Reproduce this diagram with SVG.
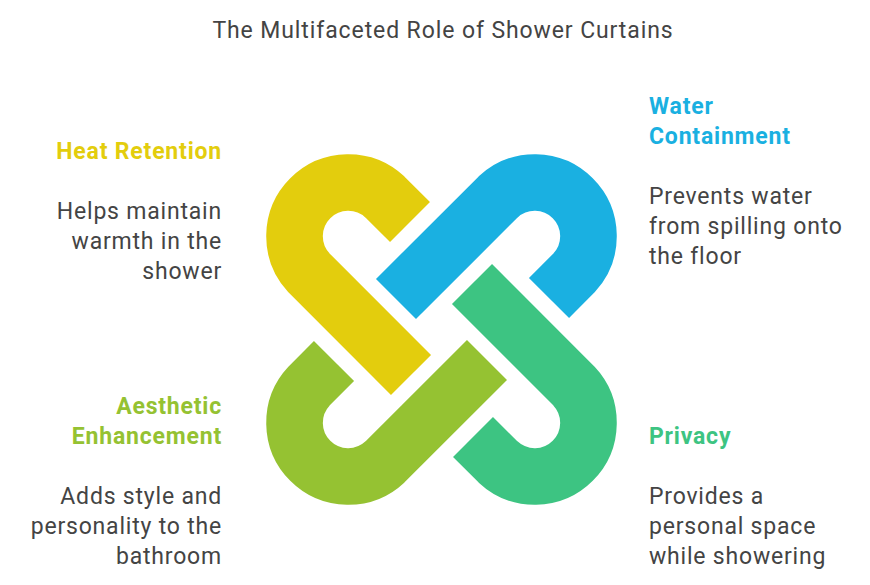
<svg xmlns="http://www.w3.org/2000/svg" width="870" height="585" viewBox="0 0 870 585">
  <style>
    .link { fill: none; stroke-width: 56.6; stroke-linecap: butt; stroke-linejoin: miter; }
    .title { font-family: Roboto, "Liberation Sans", sans-serif; font-size: 23px; letter-spacing: 0.9px; fill: #444444; }
    .head { font-family: Roboto, "Liberation Sans", sans-serif; font-size: 23px; font-weight: bold; letter-spacing: 0.8px; }
    .body { font-family: Roboto, "Liberation Sans", sans-serif; font-size: 23px; letter-spacing: 0.8px; fill: #444444; }
    .r { text-anchor: end; }
  </style>
  <defs>
    <path id="hook" d="M -31.5,-107.5 L -56.6,-132.5 A 53.7 53.7 0 0 0 -132.5,-56.6 L -30.5,45.5"/>
  </defs>
  <rect width="870" height="585" fill="#ffffff"/>
  <text class="title" x="443" y="38" text-anchor="middle">The Multifaceted Role of Shower Curtains</text>

  <g id="heat-retention">
    <use href="#hook" class="link" stroke="#E3CD0D" transform="translate(441.5 329.5)"/>
    <text class="head r" x="222" y="159" fill="#E3CD0D">Heat Retention</text>
    <text class="body r" x="222" y="219">Helps maintain</text>
    <text class="body r" x="222" y="249">warmth in the</text>
    <text class="body r" x="222" y="279">shower</text>
  </g>

  <g id="water-containment">
    <use href="#hook" class="link" stroke="#1AB0E1" transform="translate(441.5 329.5) rotate(90)"/>
    <text class="head" x="649" y="114" fill="#1AB0E1">Water</text>
    <text class="head" x="649" y="144" fill="#1AB0E1">Containment</text>
    <text class="body" x="649" y="204">Prevents water</text>
    <text class="body" x="649" y="234">from spilling onto</text>
    <text class="body" x="649" y="264">the floor</text>
  </g>

  <g id="privacy">
    <use href="#hook" class="link" stroke="#3DC482" transform="translate(441.5 329.5) rotate(180)"/>
    <text class="head" x="649" y="444" fill="#3DC482">Privacy</text>
    <text class="body" x="649" y="504">Provides a</text>
    <text class="body" x="649" y="534">personal space</text>
    <text class="body" x="649" y="564">while showering</text>
  </g>

  <g id="aesthetic-enhancement">
    <use href="#hook" class="link" stroke="#95C232" transform="translate(441.5 329.5) rotate(270)"/>
    <text class="head r" x="222" y="414" fill="#95C232">Aesthetic</text>
    <text class="head r" x="222" y="444" fill="#95C232">Enhancement</text>
    <text class="body r" x="222" y="504">Adds style and</text>
    <text class="body r" x="222" y="534">personality to the</text>
    <text class="body r" x="222" y="564">bathroom</text>
  </g>
</svg>
